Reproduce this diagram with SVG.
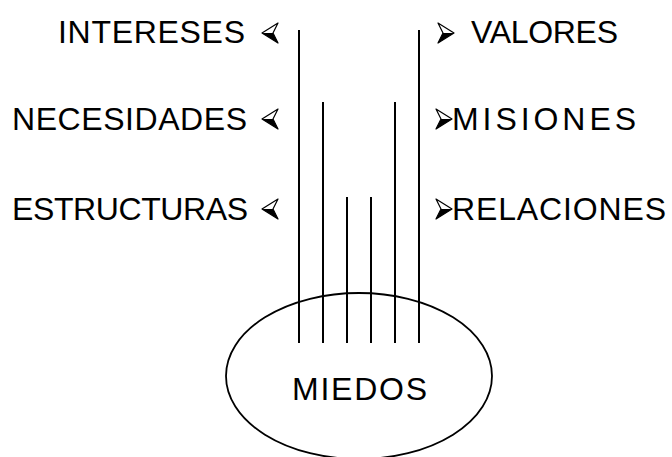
<svg xmlns="http://www.w3.org/2000/svg" width="672" height="457" viewBox="0 0 672 457">
<style>
text{font-family:"Liberation Sans","DejaVu Sans",sans-serif;font-size:32px;fill:#000}
.l{text-anchor:end}
.ln{stroke:#000;stroke-width:2;fill:none}
.ah{stroke:#000;stroke-width:1.2;fill:#fff;stroke-linejoin:round}
.ahf{fill:#000}
</style>
<defs>
<g id="arL"><polygon class="ah" points="16,0 0,10 16,20 11,10"/><polygon class="ahf" points="11,10 0,10 16,20"/></g>
<g id="arR"><polygon class="ah" points="0,0 16,10 0,20 5,10"/><polygon class="ahf" points="5,10 16,10 0,20"/></g>
</defs>
<rect width="672" height="457" fill="#fff"/>
<g id="miedos">
<ellipse cx="359" cy="376" rx="133" ry="83" fill="none" stroke="#000" stroke-width="1.8"/>
<text x="292" y="400" textLength="135">MIEDOS</text>
</g>
<g id="connectors">
<line class="ln" x1="299" y1="30" x2="299" y2="343"/>
<line class="ln" x1="323" y1="102" x2="323" y2="343"/>
<line class="ln" x1="347" y1="197" x2="347" y2="343"/>
<line class="ln" x1="371" y1="197" x2="371" y2="343"/>
<line class="ln" x1="395" y1="102" x2="395" y2="343"/>
<line class="ln" x1="419" y1="30" x2="419" y2="343"/>
</g>
<g id="intereses">
<text class="l" x="245" y="43" textLength="187">INTERESES</text>
<use href="#arL" x="262" y="23"/>
</g>
<g id="necesidades">
<text class="l" x="247" y="130" textLength="235">NECESIDADES</text>
<use href="#arL" x="262" y="109"/>
</g>
<g id="estructuras">
<text class="l" x="248" y="220" textLength="236">ESTRUCTURAS</text>
<use href="#arL" x="262" y="199"/>
</g>
<g id="valores">
<use href="#arR" x="438" y="23"/>
<text x="471" y="43" textLength="147">VALORES</text>
</g>
<g id="misiones">
<use href="#arR" x="436" y="109"/>
<text x="452" y="130" textLength="184">MISIONES</text>
</g>
<g id="relaciones">
<use href="#arR" x="436" y="199"/>
<text x="452" y="220" textLength="214">RELACIONES</text>
</g>
</svg>
